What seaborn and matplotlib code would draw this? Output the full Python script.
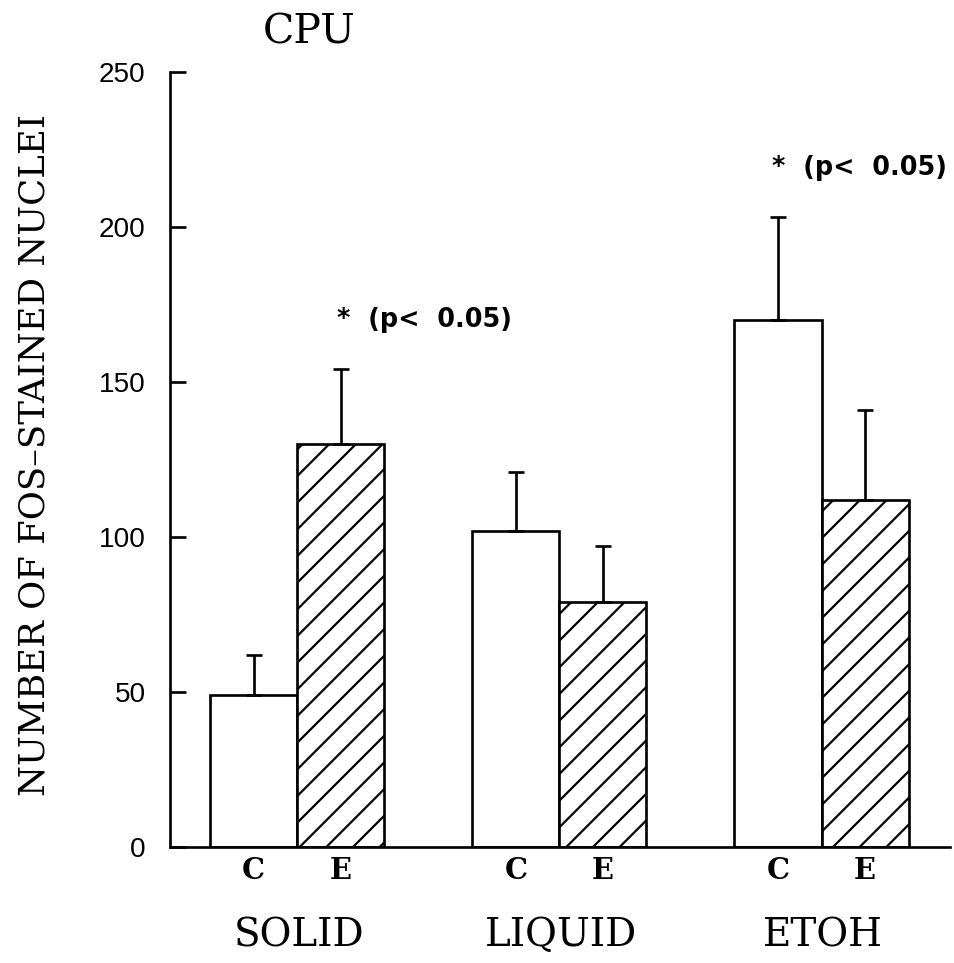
import matplotlib
matplotlib.use("Agg")
import matplotlib.pyplot as plt
import seaborn as sns
import pandas as pd
import numpy as np

# ---- data ----
groups = ["SOLID", "LIQUID", "ETOH"]
conditions = ["C", "E"]
control_means = [49, 102, 170]
ethanol_means = [130, 79, 112]
control_sem = [13, 19, 33]
ethanol_sem = [24, 18, 29]
y_ticks = [0, 50, 100, 150, 200, 250]
sig_text = "*  (p<  0.05)"
title = "CPU"
ylabel = "NUMBER OF FOS\u2013STAINED NUCLEI"

df = pd.DataFrame({
    "group": groups * 2,
    "cond": ["C"] * 3 + ["E"] * 3,
    "value": control_means + ethanol_means,
    "err": control_sem + ethanol_sem,
})

sns.set_style("white")
plt.rcParams["font.family"] = ["DejaVu Serif"]
plt.rcParams["hatch.linewidth"] = 1.0
for k in ["text.color", "axes.labelcolor", "xtick.color", "ytick.color", "axes.edgecolor"]:
    plt.rcParams[k] = "black"

LW = 1.2
DPI = 160
fig = plt.figure(figsize=(954 / DPI, 963 / DPI), dpi=DPI)
ax = fig.add_axes([170 / 954, 1 - 846.7 / 963, 780 / 954, (846.7 - 71.7) / 963])

sns.barplot(data=df, x="group", y="value", hue="cond", order=groups,
            hue_order=conditions, palette=["white", "white"], edgecolor="black",
            linewidth=LW, width=0.664, errorbar=None, legend=False, ax=ax,
            saturation=1)

# identify bars, hatch E bars, collect centers
centers = {}
for p in ax.patches:
    cx = p.get_x() + p.get_width() / 2
    gi = int(round(cx))
    cond = "C" if cx < gi else "E"
    centers[(groups[gi], cond)] = cx
    if cond == "E":
        p.set_hatch("//")
    p.set_facecolor("white")
    p.set_edgecolor("black")

xs, ys, es = [], [], []
for _, r in df.iterrows():
    xs.append(centers[(r["group"], r["cond"])])
    ys.append(r["value"])
    es.append(r["err"])
ax.errorbar(xs, ys, yerr=[np.zeros(len(es)), es], fmt="none", ecolor="black",
            elinewidth=LW, capsize=3.6, capthick=LW, zorder=5)

ax.set_xlim(-0.485, 2.49)
ax.set_ylim(0, 250)
ax.set_yticks(y_ticks)
ax.set_yticklabels([str(t) for t in y_ticks], fontfamily="Liberation Sans", fontsize=12.6)
ax.tick_params(axis="y", direction="in", length=7.2, width=LW, pad=11, left=True)

tick_pos = [centers[(g, c)] for g in groups for c in conditions]
ax.set_xticks(tick_pos)
ax.set_xticklabels([c for g in groups for c in conditions],
                   fontfamily="DejaVu Serif", fontweight="bold", fontsize=13)
ax.tick_params(axis="x", length=0, pad=4)

sns.despine(ax=ax)
for s in ["left", "bottom"]:
    ax.spines[s].set_linewidth(LW)
    ax.spines[s].set_color("black")

ax.set_xlabel("")
ax.set_ylabel("")

for i, g in enumerate(groups):
    ax.text(i + 0.007, -28.8, g, ha="center", va="center", fontsize=17.5,
            clip_on=False)

ax.text(0.046, 262.5, title, ha="center", va="center", fontsize=18.5, clip_on=False)
ax.text(0.485, 170, sig_text, ha="center", va="center", fontsize=11.5,
        fontfamily="DejaVu Sans", fontweight="bold", clip_on=False)
ax.text(2.145, 219, sig_text, ha="center", va="center", fontsize=11.5,
        fontfamily="DejaVu Sans", fontweight="bold", clip_on=False)

fig.text(35 / 954, 1 - 455 / 963, ylabel, rotation=90, ha="center", va="center",
         fontsize=16)

fig.savefig("out.png", dpi=DPI, facecolor="white")
